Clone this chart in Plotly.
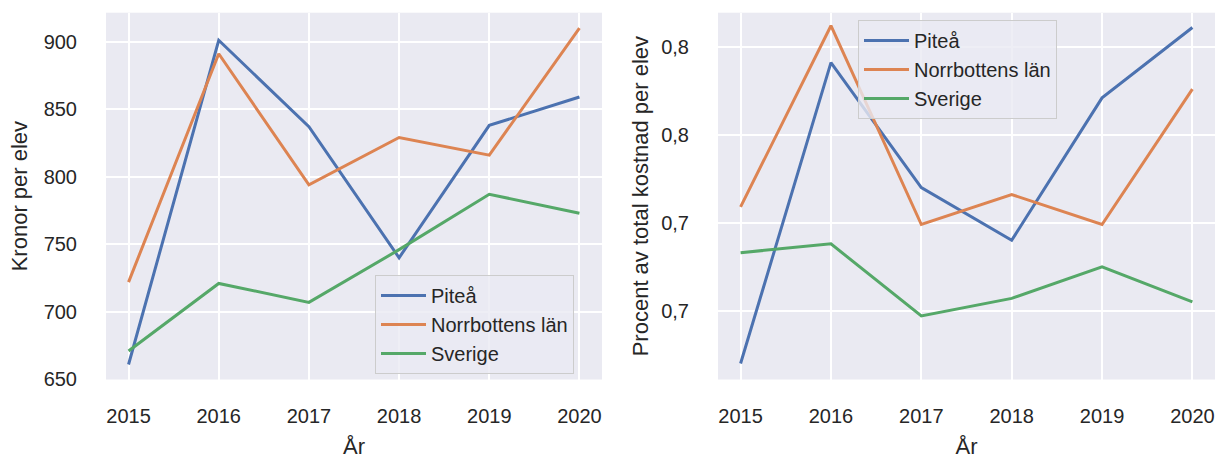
import plotly.graph_objects as go

years = [2015, 2016, 2017, 2018, 2019, 2020]

# Left panel: Kronor per elev
kr_pitea = [661, 901, 837, 740, 838, 859]
kr_norrbotten = [722, 891, 794, 829, 816, 910]
kr_sverige = [671, 721, 707, 746, 787, 773]

# Right panel: Procent av total kostnad per elev
pct_pitea = [0.620, 0.791, 0.720, 0.690, 0.771, 0.811]
pct_norrbotten = [0.709, 0.812, 0.699, 0.716, 0.699, 0.776]
pct_sverige = [0.683, 0.688, 0.647, 0.657, 0.675, 0.655]

series_names = ["Piteå", "Norrbottens län", "Sverige"]
colors = ["#4c72b0", "#dd8452", "#55a868"]

kr_ticks = [650, 700, 750, 800, 850, 900]
kr_ticktext = ["650", "700", "750", "800", "850", "900"]
pct_ticks = [0.65, 0.70, 0.75, 0.80]
pct_ticktext = ["0,7", "0,7", "0,8", "0,8"]

# visible axis ranges (as in the reference picture)
KR_RANGE = [649.9, 921.4]
PCT_RANGE = [0.6109, 0.8194]
YEAR_RANGE = [2014.75, 2020.25]

W, H = 1215, 459
FONT = "Liberation Sans, Arial, sans-serif"
TXT = "#262626"


def px_x(x):
    return x / W


def px_y(y):
    return 1 - y / H


fig = go.Figure()
for name, vals, c in zip(series_names, [kr_pitea, kr_norrbotten, kr_sverige], colors):
    fig.add_trace(go.Scatter(x=years, y=vals, mode="lines", name=name,
                             line=dict(color=c, width=3), xaxis="x", yaxis="y",
                             legend="legend"))
for name, vals, c in zip(series_names, [pct_pitea, pct_norrbotten, pct_sverige], colors):
    fig.add_trace(go.Scatter(x=years, y=vals, mode="lines", name=name,
                             line=dict(color=c, width=3), xaxis="x2", yaxis="y2",
                             legend="legend2"))

ytop = px_y(12.7)
ybot = px_y(379.5)

common_x = dict(
    tickvals=years, ticktext=[str(y) for y in years],
    range=YEAR_RANGE, automargin=False,
    showgrid=True, gridcolor="white", gridwidth=2, zeroline=False,
    showline=False, ticks="", tickfont=dict(size=20, color=TXT, family=FONT),
    ticklabelstandoff=22,
    title=dict(text="År", font=dict(size=22, color=TXT, family=FONT), standoff=13),
)
common_y = dict(
    automargin=False,
    showgrid=True, gridcolor="white", gridwidth=2, zeroline=False,
    showline=False, ticks="", tickfont=dict(size=20, color=TXT, family=FONT),
    ticklabelstandoff=28,
)

legend_style = dict(
    bgcolor="rgba(234,234,242,0.8)", bordercolor="#cccccc", borderwidth=1,
    font=dict(size=20, color=TXT, family=FONT), xanchor="left", yanchor="top",
    traceorder="normal", itemwidth=45,
)

fig.update_layout(
    width=W, height=H,
    margin=dict(l=0, r=0, t=0, b=0),
    paper_bgcolor="white", plot_bgcolor="#eaeaf2",
    font=dict(family=FONT, color=TXT),
    xaxis=dict(domain=[px_x(106), px_x(602)], anchor="y", **common_x),
    xaxis2=dict(domain=[px_x(718), 1.0], anchor="y2", **common_x),
    yaxis=dict(domain=[ybot, ytop], anchor="x", range=KR_RANGE,
               tickvals=kr_ticks, ticktext=kr_ticktext,
               title=dict(text="Kronor per elev", font=dict(size=22, color=TXT, family=FONT), standoff=9),
               **common_y),
    yaxis2=dict(domain=[ybot, ytop], anchor="x2", range=PCT_RANGE,
                tickvals=pct_ticks, ticktext=pct_ticktext,
                title=dict(text="Procent av total kostnad per elev", font=dict(size=22, color=TXT, family=FONT), standoff=6),
                **common_y),
    legend=dict(x=px_x(375), y=px_y(275), **legend_style),
    legend2=dict(x=px_x(858), y=px_y(20), **legend_style),
    showlegend=True,
)

fig.write_html(
    "out.html",
    config={"displayModeBar": False},
    post_script="document.body.style.margin='0';document.body.style.overflow='hidden';",
)
